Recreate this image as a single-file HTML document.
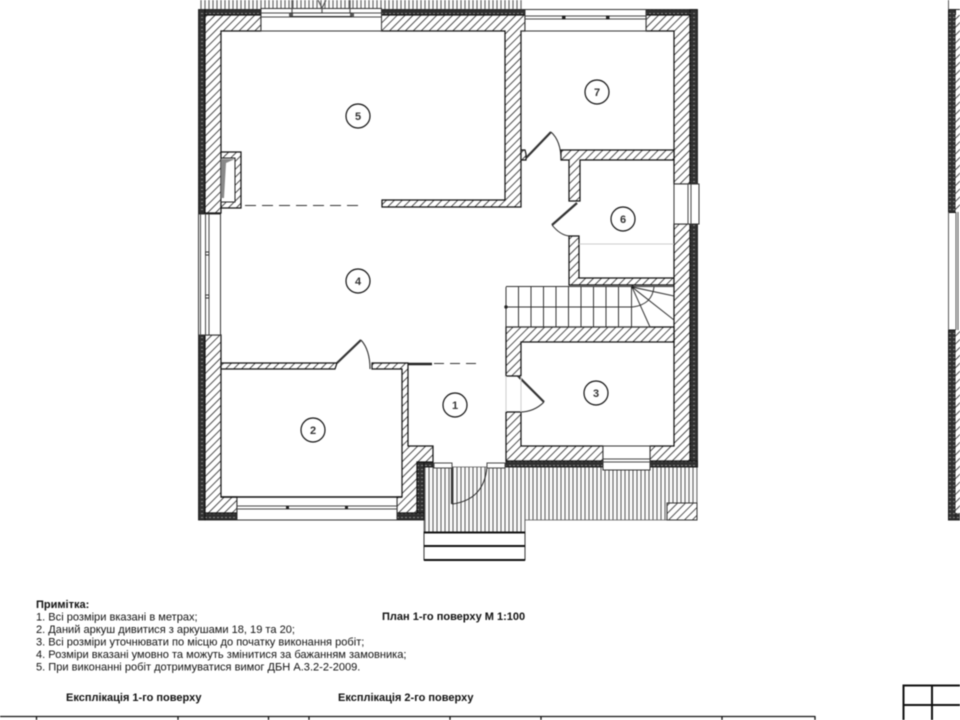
<!DOCTYPE html>
<html><head><meta charset="utf-8"><style>
html,body{margin:0;padding:0;background:#fff;width:960px;height:720px;overflow:hidden}
svg{display:block;filter:blur(.4px)}
text{font-family:"Liberation Sans",sans-serif;fill:#111}
.n{font-size:11px;text-anchor:middle;fill:#333;font-weight:bold}
.t{font-size:11.07px}
.b{font-size:11px;font-weight:bold}
</style></head><body>
<svg width="960" height="720" viewBox="0 0 960 720" xmlns="http://www.w3.org/2000/svg">
<defs>
<pattern id="h" width="5.6" height="5.6" patternUnits="userSpaceOnUse" patternTransform="rotate(45)"><rect width="5.6" height="5.6" fill="#fff"/><line x1="0" y1="0" x2="0" y2="5.6" stroke="#333" stroke-width="1.700"/></pattern>
<pattern id="s" width="4" height="4" patternUnits="userSpaceOnUse"><rect width="4" height="4" fill="#fff"/><line x1="1" y1="0" x2="1" y2="4" stroke="#666" stroke-width="1.200"/></pattern>
<pattern id="d" width="4" height="4" patternUnits="userSpaceOnUse"><rect width="4" height="4" fill="#303030"/><rect x="1" y="1" width="2" height="1" fill="#888"/></pattern>
</defs>
<rect width="960" height="720" fill="#fff"/>

<!-- terraces -->
<rect x="198" y="0" width="324" height="9" fill="url(#s)"/>
<path d="M424 467H697V520H525V532H424Z" fill="url(#s)" stroke="#555" stroke-width=".8"/>
<rect x="667" y="503" width="30" height="17" fill="url(#h)" stroke="#333"/>

<!-- insulation band -->
<g fill="url(#d)" stroke="#111" stroke-width=".8">
<rect x="198.500" y="9.500" width="6.500" height="204"/>
<rect x="198.500" y="335" width="6.500" height="185"/>
<rect x="205" y="513" width="32" height="7"/>
<rect x="397" y="513" width="27" height="7"/>
<rect x="417" y="462" width="7" height="51"/>
<rect x="424" y="462" width="9" height="5"/>
<rect x="205" y="9.500" width="56" height="5.500"/>
<rect x="381" y="9.500" width="144" height="5.500"/>
<rect x="646" y="9.500" width="51" height="5.500"/>
<rect x="690" y="9.500" width="7.500" height="174.500"/>
<rect x="690" y="224" width="7.500" height="243"/>
<rect x="506" y="461" width="97" height="6"/>
<rect x="650" y="461" width="47.500" height="6"/>
</g>

<!-- hatched walls -->
<g fill="url(#h)" stroke="#111" stroke-width="1.200">
<path d="M205 15H261V31H221V213H205Z"/>
<path d="M381 15H525V31H521V207H382V200H505V31H381Z"/>
<path d="M646 15H690V184H674V31H646Z"/>
<path d="M561 150H674V160H580V201H569V160H561Z"/>
<path d="M569 236H579V278H674V285H569Z"/>
<path d="M674 224H690V461H650V446H674Z"/>
<path d="M506 327H674V342H521V376H506Z"/>
<path d="M506 412H521V446H603V461H506Z"/>
<path d="M205 335H221V497H237V513H205Z"/>
<path d="M221 363H337L335 369H221Z"/>
<path d="M372 363H408V446H433V462H417V513H397V497H402V369H372Z"/>
<path d="M521 150H525L526 154V160H521Z"/>
</g>

<!-- fireplace -->
<path d="M221 152H241V208H221Z" fill="url(#h)" stroke="#111" stroke-width="1.200"/>
<rect x="221" y="158" width="14" height="44" fill="#fff" stroke="#222"/>
<path d="M221 159H235L226 163L224 198H221Z" fill="#888"/>

<!-- windows -->
<g fill="#fff" stroke="#333" stroke-width="1">
<rect x="261" y="8.500" width="120.500" height="22.500"/>
<rect x="525" y="9.500" width="121" height="21.500"/>
<rect x="237" y="497" width="160" height="23"/>
<rect x="603" y="446" width="47" height="24"/>
<rect x="674" y="184" width="25" height="40"/>
<rect x="198.500" y="214" width="22" height="121"/>
</g>
<g stroke="#444" stroke-width="1" fill="none">
<path d="M261 13H381M261 17H381"/>
<path d="M525 16H646M525 19H646"/>
<path d="M237 506H397M237 509H397"/>
<path d="M603 459H650M603 462H650"/>
<path d="M688 184V224M691 184V224"/>
<path d="M200.500 214V335M205.500 214V335M209 214V335"/>
</g>
<path d="M292 13V0M350 13V0M322 13V8L318 0M322 8L326 0" stroke="#555" fill="none" stroke-width="1.200"/>
<rect x="289" y="13" width="4" height="4" fill="#555"/><rect x="350" y="13" width="4" height="4" fill="#555"/>
<path d="M290 13H352M290 16.500H352" stroke="#333" stroke-width="1"/>
<rect x="562" y="15.500" width="3.500" height="4" fill="#222"/><rect x="606" y="15.500" width="3.500" height="4" fill="#222"/>
<rect x="286" y="506" width="3" height="3" fill="#222"/><rect x="345" y="506" width="3" height="3" fill="#222"/>
<g fill="#fff" stroke="#333" stroke-width="1"><rect x="205.500" y="252" width="3.500" height="3"/><rect x="205.500" y="295" width="3.500" height="3"/></g>

<!-- room outlines emphasised -->
<path d="M221 497H402" stroke="#111" stroke-width="1.500"/>
<path d="M521 31H525M261 31H381M525 31H646" stroke="#333" stroke-width="1"/>

<!-- stairs -->
<g stroke="#333" stroke-width="1" fill="none">
<path d="M506 286.500H674M506 327H650"/>
<path d="M506 287V327M518.500 287V327M531 287V327M543.500 287V327M556 287V327M568.500 287V327M581 287V327M593.500 287V327M606 287V327M618.500 287V327M631.500 287V327"/>
<path d="M506 307H632Q652 305 654 287"/>
<path d="M632 287L674 296M632 287L674 320M632 287L650 327"/>
</g>
<circle cx="506" cy="307" r="1.700" fill="#222"/>
<circle cx="632.500" cy="287" r="1.500" fill="#222"/>

<!-- doors -->
<g fill="none" stroke="#222" stroke-width="1">
<path d="M551 132Q561 141 561 160"/>
<path d="M552 225Q560 235 569 236"/>
<path d="M361 340Q370 350 370 369"/>
<path d="M544 402Q534 412 520 412"/>
<path d="M452 504Q484 500 487 467"/>
</g>
<g fill="none" stroke="#333" stroke-width="2.200">
<path d="M526 158L551 132"/>
<path d="M577 203L552 225"/>
<path d="M337 363L361 340"/>
<path d="M518 376L544 402"/>
<path d="M452 467V504"/>
</g>
<path d="M506 376V412M521 376V412" stroke="#ccc" stroke-width="1"/>
<path d="M579 244H674" stroke="#ccc" stroke-width="1"/>
<rect x="434" y="463" width="18" height="5" fill="#fff" stroke="#444"/>
<rect x="487" y="463" width="18" height="5" fill="#fff" stroke="#444"/>
<path d="M408 364H432" stroke="#222" stroke-width="2.500"/>

<!-- dashed -->
<path d="M245 205.500H358" stroke="#333" stroke-width="1" stroke-dasharray="11 6" fill="none"/>
<path d="M434 363.500H480" stroke="#333" stroke-width="1" stroke-dasharray="10 6" fill="none"/>

<!-- steps -->
<rect x="424" y="532" width="101" height="28" fill="#fff" stroke="#333"/>
<path d="M424 532.500H525M424 546H525M424 560H525" stroke="#111" stroke-width="2"/>

<!-- room tags -->
<g fill="#fff" stroke="#111" stroke-width="1.200">
<circle cx="358" cy="116" r="12"/><circle cx="597" cy="92" r="12"/><circle cx="623" cy="219" r="12"/>
<circle cx="358" cy="281" r="12"/><circle cx="455" cy="405" r="12"/><circle cx="596" cy="393" r="12"/><circle cx="313" cy="430" r="12"/>
</g>
<text class="n" x="358" y="120">5</text><text class="n" x="597" y="96">7</text><text class="n" x="623" y="223">6</text>
<text class="n" x="358" y="285">4</text><text class="n" x="455" y="409">1</text><text class="n" x="596" y="397">3</text><text class="n" x="313" y="434">2</text>

<!-- next sheet right edge -->
<rect x="948.500" y="9.500" width="7" height="203" fill="url(#d)" stroke="#111"/>
<rect x="948.500" y="330" width="7" height="190" fill="url(#d)" stroke="#111"/>
<rect x="955.500" y="15" width="4.500" height="197" fill="url(#h)"/>
<rect x="955.500" y="330" width="4.500" height="183" fill="url(#h)"/>
<rect x="955.500" y="513" width="4.500" height="7" fill="url(#d)"/>
<path d="M948.500 0V10M948.500 212V330M956 212V330M958 212V330" stroke="#555" stroke-width="1"/>
<path d="M948.500 9.500H960M948.500 520H960" stroke="#222"/>

<!-- notes -->
<text class="b" x="36" y="608">Примітка:</text>
<text class="t" x="36" y="620.500">1. Всі розміри вказані в метрах;</text>
<text class="t" x="36" y="633">2. Даний аркуш дивитися з аркушами 18, 19 та 20;</text>
<text class="t" x="36" y="645.500">3. Всі розміри уточнювати по місцю до початку виконання робіт;</text>
<text class="t" x="36" y="658">4. Розміри вказані умовно та можуть змінитися за бажанням замовника;</text>
<text class="t" x="36" y="670.500">5. При виконанні робіт дотримуватися вимог ДБН А.3.2-2-2009.</text>
<text class="b" x="382" y="620">План 1-го поверху М 1:100</text>
<text class="b" x="66" y="701">Експлікація 1-го поверху</text>
<text class="b" x="338" y="701">Експлікація 2-го поверху</text>

<!-- table -->
<path d="M0 716.500H815M815 716V720M36.500 716V720M178 716V720M268.500 716V720M309 716V720M450 716V720M541 716V720M722 716V720" stroke="#111" stroke-width="1.300" fill="none"/>
<path d="M903.500 720V685.500H960M903 705H960M932 685V720" stroke="#111" stroke-width="2" fill="none"/>
</svg>
</body></html>
